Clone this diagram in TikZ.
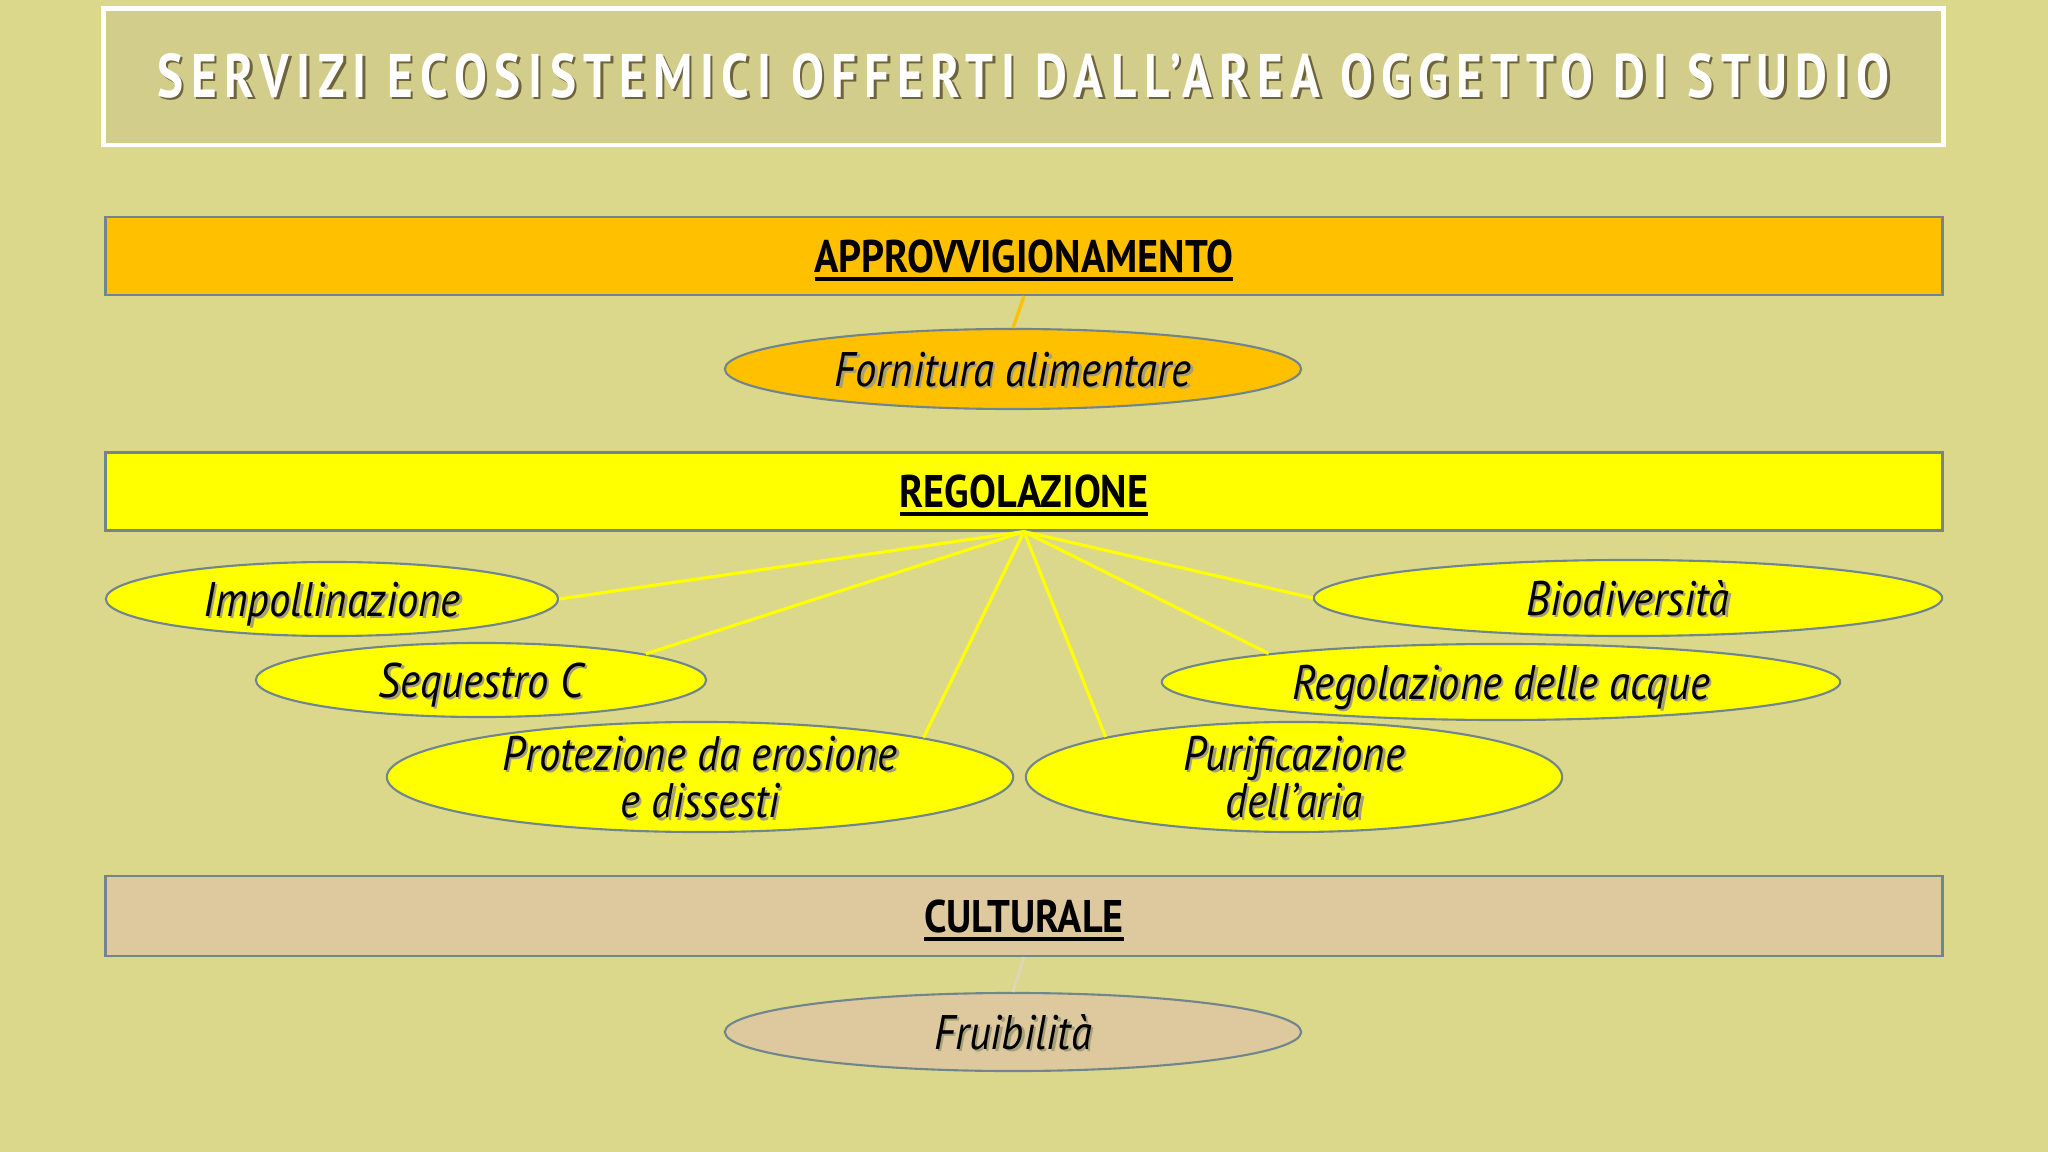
\documentclass[tikz,border=0pt]{standalone}
\usepackage{fontspec}
\setmainfont{PT Sans}
\newfontfamily\labelfont[FakeStretch=0.88]{PT Sans}
\newfontfamily\titlefont[FakeStretch=0.8,LetterSpace=12.5]{PT Sans}
\usetikzlibrary{shapes.geometric}

\definecolor{slidebg}{RGB}{219,215,139}
\definecolor{titlefill}{RGB}{211,205,140}
\definecolor{titleshadow}{RGB}{110,100,60}
\definecolor{textshadow}{RGB}{165,160,120}
\definecolor{supplyc}{RGB}{255,192,0}
\definecolor{regulc}{RGB}{255,255,0}
\definecolor{culturec}{RGB}{222,200,158}
\definecolor{edgegray}{RGB}{112,134,140}
\definecolor{fruitline}{RGB}{222,214,182}

% text with a small drop shadow
\newcommand{\shadowed}[2][textshadow]{%
  \rlap{\kern0.7pt\raisebox{-0.7pt}{\textcolor{#1}{#2}}}#2}
% heading underline, a little heavier than \underline
\newcommand{\headline}[1]{%
  \setbox0\hbox{#1}\rlap{\rule[-2.4pt]{\wd0}{1.1pt}}\box0}

\begin{document}
\begin{tikzpicture}[
  x = 0.01cm, y = -0.01cm,
  band/.style = {
    shape = rectangle,
    draw = edgegray,
    line width = 0.6pt,
    minimum width = 18.36cm,
    minimum height = 0.78cm,
    inner sep = 0pt,
    text depth = 0pt,
    font = \labelfont\bfseries\fontsize{13}{14}\selectfont,
  },
  service/.style = {
    shape = ellipse,
    draw = edgegray,
    line width = 0.6pt,
    inner sep = 0pt,
    text depth = 0pt,
    align = center,
    font = \labelfont\itshape\fontsize{13.8}{13.5}\selectfont,
  },
  twoline/.style = { inner ysep = -5pt },
  link/.style = { line width = 0.9pt }
]
  \useasboundingbox (0, 0) rectangle (2048, 1152);
  \fill[slidebg] (0, 0) rectangle (2048, 1152);

  \node[draw = white, line width = 1.4pt, fill = titlefill, text = white,
    minimum width = 18.39cm, minimum height = 1.36cm]
    (title) at (1023.5, 77)
    {\titlefont\bfseries\fontsize{17.5}{20}\selectfont
     \shadowed[titleshadow]{SERVIZI ECOSISTEMICI OFFERTI DALL’AREA OGGETTO DI STUDIO}};

  \node[band, fill = supplyc] (supply) at (1024, 256) {\headline{APPROVVIGIONAMENTO}};
  \node[band, fill = regulc] (regul) at (1024, 491.5) {\headline{REGOLAZIONE}};
  \node[band, fill = culturec, minimum height = 0.8cm] (culture) at (1024, 916) {\headline{CULTURALE}};

  \node[service, fill = supplyc, minimum width = 5.76cm, minimum height = 0.8cm]
    (food) at (1013, 369) {\shadowed{Fornitura alimentare}};

  \node[service, fill = regulc, minimum width = 4.52cm, minimum height = 0.74cm]
    (pollin) at (332, 599) {\shadowed{Impollinazione}};
  \node[service, fill = regulc, minimum width = 4.50cm, minimum height = 0.74cm]
    (seqc) at (481, 680) {\shadowed{Sequestro C}};
  \node[service, twoline, fill = regulc, minimum width = 6.26cm, minimum height = 1.10cm]
    (erosion) at (700, 777) {\shadowed{Protezione da erosione}\\\shadowed{e dissesti}};
  \node[service, twoline, fill = regulc, minimum width = 5.36cm, minimum height = 1.10cm]
    (airpur) at (1294, 777) {\shadowed{Purificazione}\\\shadowed{dell’aria}};
  \node[service, fill = regulc, minimum width = 6.78cm, minimum height = 0.76cm]
    (water) at (1501, 682) {\shadowed{Regolazione delle acque}};
  \node[service, fill = regulc, minimum width = 6.28cm, minimum height = 0.76cm]
    (biodiv) at (1628, 598) {\shadowed{Biodiversità}};

  \node[service, fill = culturec, minimum width = 5.76cm, minimum height = 0.78cm]
    (fruit) at (1013, 1032) {\shadowed{Fruibilità}};

  \draw[link, draw = supplyc] (supply.south) -- (food.north);
  \foreach \target/\ang in {pollin/0, seqc/9, erosion/10, airpur/168, water/173, biodiv/180}
    \draw[link, draw = regulc] (regul.south) -- (\target.\ang);
  \draw[link, draw = fruitline] (culture.south) -- (fruit.north);
\end{tikzpicture}
\end{document}
